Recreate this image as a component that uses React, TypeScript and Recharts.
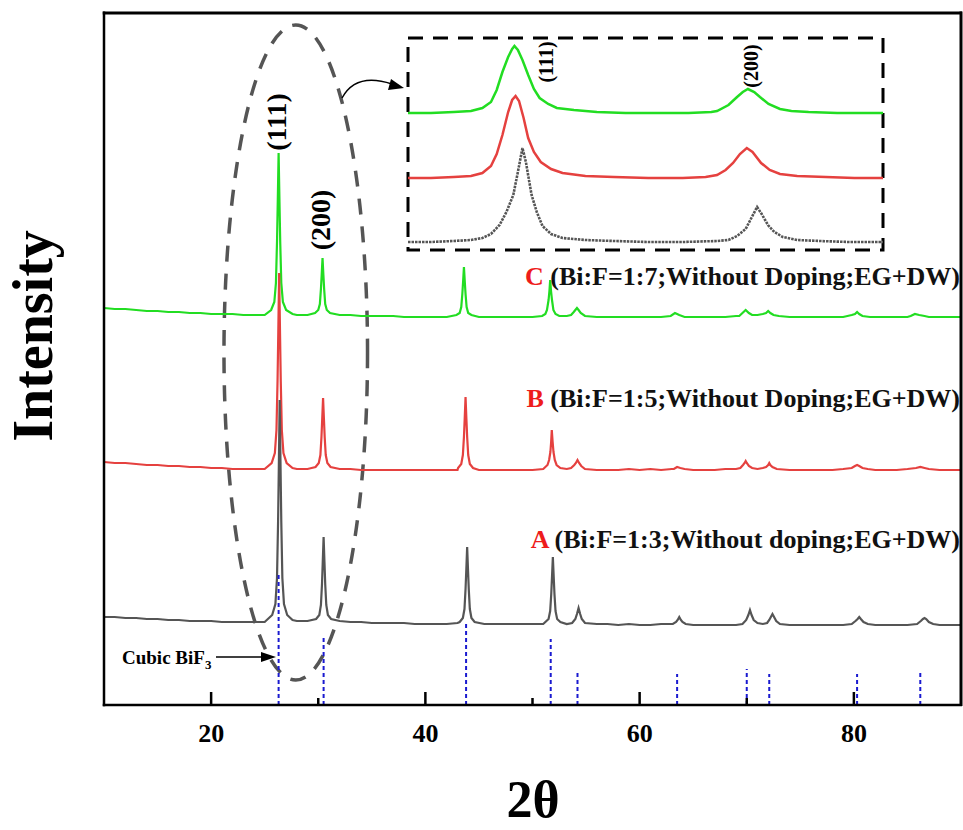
import React from "react";
import { LineChart, Line, XAxis, YAxis, ReferenceArea, ReferenceLine } from "recharts";

// 2θ (deg) vs intensity (arb. units)
const seriesA: number[][] = [
  [10,88],[11,88],[12,87],[13,87],[14,86],[15,86],[16,85],[17,85],[18,84],[19,84],[20,84],[21,83],[22,83],[23,83],[24,83],[25,83],
  [25.7,90],[26.0,101],[26.15,127],[26.25,183],[26.32,238],[26.4,305],[26.48,238],[26.55,183],[26.65,127],[26.8,101],[27.1,90],[27.6,85],[28,84],[29,84],
  [29.8,86],[30.1,90],[30.25,100],[30.35,121],[30.42,143],[30.5,168],[30.58,143],[30.65,121],[30.75,100],[30.9,90],[31.2,86],
  [32,84],[33,83],[34,83],[35,82],[36,82],[37,82],[38,82],[39,81],[40,81],[41,81],[42,81],[43,82],
  [43.2,83],[43.5,87],[43.65,96],[43.75,116],[43.82,135],[43.9,158],[43.98,135],[44.05,116],[44.15,96],[44.3,87],[44.6,83],
  [45.5,81],[46,81],[47,81],[48,81],[49,81],[50,81],[51,81],
  [51.2,83],[51.5,86],[51.65,94],[51.75,111],[51.82,128],[51.9,148],[51.98,128],[52.05,111],[52.15,94],[52.3,86],[52.6,83],[53.2,81],
  [53.7,82],[54.0,86],[54.15,91],[54.3,97],[54.45,91],[54.6,86],[54.9,82],
  [56,81],[57,81],[58,80],[59,81],[60,80],[61,80],[62,81],[63,81],
  [63.1,81],[63.4,83],[63.55,85],[63.7,88],[63.85,85],[64.0,83],[64.3,81],
  [65,80],[66,80],[67,80],[68,80],[69,80],
  [69.6,81],[69.95,85],[70.15,90],[70.3,95],[70.45,90],[70.65,85],[71.0,82],[71.5,81],
  [71.9,82],[72.1,85],[72.25,88],[72.4,91],[72.55,88],[72.75,84],[73.1,81],
  [74,80],[75,80],[76,80],[77,80],[78,80],[79,80],
  [79.8,81],[80.15,84],[80.35,86],[80.5,88],[80.65,86],[80.9,83],[81.3,81],
  [82,80],[83,80],[84,80],[85,80],
  [85.9,81],[86.25,84],[86.45,86],[86.6,87],[86.75,86],[87.0,83],[87.4,81],[88,80],[89,80],[90,80],
];

const seriesB: number[][] = [
  [10,243],[11,242],[12,242],[13,241],[14,240],[15,240],[16,239],[17,239],[18,238],[19,238],[20,237],[21,237],[22,236],[23,236],[24,236],[25,236],
  [25.65,242],[25.95,252],[26.1,275],[26.2,324],[26.27,373],[26.35,432],[26.43,373],[26.5,324],[26.6,275],[26.75,252],[27.05,242],[27.6,237],[28,236],[29,236],
  [29.75,238],[30.05,242],[30.2,250],[30.3,268],[30.37,286],[30.45,307],[30.53,286],[30.6,268],[30.7,250],[30.85,242],[31.15,238],
  [32,236],[33,236],[34,235],[35,235],[36,235],[37,235],[38,235],[39,235],[40,235],[41,235],[42,235],[43,235],
  [43.05,237],[43.35,241],[43.5,250],[43.6,268],[43.67,286],[43.75,308],[43.83,286],[43.9,268],[44.0,250],[44.15,241],[44.45,237],
  [45,235],[46,235],[47,235],[48,235],[49,235],[50,235],[51,236],
  [51.1,237],[51.4,240],[51.55,245],[51.67,253],[51.74,263],[51.8,275],[51.88,263],[51.96,253],[52.08,245],[52.25,240],[52.6,237],[53.2,236],
  [53.6,237],[53.9,240],[54.05,242],[54.2,245],[54.35,242],[54.55,239],[54.9,236],
  [56,235],[57,235],[58,235],[59,236],[60,235],[61,236],[62,235],[63,236],
  [63.2,236],[63.5,238],[63.8,237],[64.2,236],
  [65,235],[66,235],[67,235],[68,236],[69,236],
  [69.4,237],[69.65,240],[69.8,242],[69.9,244],[70.0,242],[70.2,239],[70.5,237],[71,236],[71.5,237],
  [71.8,238],[72.0,240],[72.1,242],[72.2,240],[72.4,238],[72.8,236],
  [74,235],[75,235],[76,235],[77,235],[78,235],[79,236],
  [79.8,237],[80.1,239],[80.3,240],[80.5,239],[80.8,237],[81.3,236],
  [82,235],[83,235],[84,235],[85,236],
  [85.8,237],[86.2,238],[86.6,237],[87,236],[88,235],[89,235],[90,235],
];

const seriesC: number[][] = [
  [10,397],[11,396],[12,396],[13,395],[14,394],[15,394],[16,393],[17,393],[18,392],[19,392],[20,391],[21,391],[22,391],[23,390],[24,390],[25,390],
  [25.6,395],[25.9,403],[26.05,422],[26.15,463],[26.22,503],[26.3,552],[26.38,503],[26.45,463],[26.55,422],[26.7,403],[27.0,395],[27.6,391],[28,390],[29,390],
  [29.7,392],[30.0,395],[30.15,401],[30.25,416],[30.32,430],[30.4,447],[30.48,430],[30.55,416],[30.65,401],[30.8,395],[31.1,392],
  [32,390],[33,390],[34,389],[35,389],[36,389],[37,389],[38,388],[39,388],[40,388],[41,388],[42,388],
  [42.9,390],[43.2,392],[43.35,398],[43.45,411],[43.52,423],[43.6,438],[43.68,423],[43.75,411],[43.85,398],[44.0,392],[44.3,390],
  [45,388],[46,388],[47,388],[48,388],[49,388],[50,388],
  [50.9,389],[51.2,391],[51.35,395],[51.5,405],[51.58,414],[51.65,425],[51.73,414],[51.82,405],[51.95,395],[52.15,391],[52.5,389],[53.2,389],
  [53.6,390],[53.85,393],[54.0,395],[54.15,397],[54.3,395],[54.5,392],[54.9,389],
  [56,388],[57,388],[58,388],[59,388],[60,388],[61,388],[62,388],
  [62.9,389],[63.3,392],[63.7,390],[64.2,388],
  [65,388],[66,388],[67,388],[68,388],[69,389],
  [69.3,389],[69.6,392],[69.9,395],[70.2,392],[70.5,390],[71,390],[71.5,391],
  [71.8,392],[72.0,394],[72.2,392],[72.5,390],[73,389],
  [74,388],[75,388],[76,388],[77,388],[78,388],[79,388],
  [79.8,390],[80.1,391],[80.3,393],[80.5,391],[80.8,389],[81.5,388],
  [82,388],[83,388],[84,388],[85,388],
  [85.3,389],[85.7,391],[86.1,390],[86.6,389],[87,388],[88,388],[89,388],[90,388],
];

// Cubic BiF3 standard reflections: 2θ and relative height
const refPositions: number[] = [26.3, 30.5, 43.8, 51.7, 54.2, 63.5, 70.0, 72.1, 80.3, 86.2];
const refHeights: number[] = [130, 70, 82, 66, 35, 31, 36, 31, 31, 32];

// Inset (zoom on the (111) and (200) reflections)
const insetC: number[][] = [
  [24.4,137],[24.8,137],[25.2,138],[25.5,139],[25.7,142],[25.85,148],[25.95,160],[26.05,178],[26.15,193],[26.22,201],[26.26,204],
  [26.32,200],[26.4,190],[26.5,175],[26.6,161],[26.7,152],[26.85,146],[27.0,142],[27.3,140],[27.7,138],[28.2,137],[28.8,137],[29.3,137],[29.7,138],
  [29.8,139],[30.0,145],[30.15,153],[30.25,158],[30.34,161],[30.45,158],[30.55,153],[30.7,146],[30.9,141],[31.1,139],[31.4,138],[31.9,137],[32.3,137],[32.7,137],
];
const insetB: number[][] = [
  [24.4,72],[24.8,72],[25.2,73],[25.5,74],[25.7,77],[25.85,84],[25.95,96],[26.05,115],[26.15,138],[26.22,150],[26.28,154],
  [26.34,149],[26.42,132],[26.5,112],[26.6,98],[26.72,88],[26.9,81],[27.1,77],[27.5,74],[28,73],[28.6,72],[29.2,72],[29.6,73],
  [29.8,75],[29.95,80],[30.08,87],[30.2,96],[30.32,102],[30.42,98],[30.57,87],[30.72,80],[30.9,76],[31.2,74],[31.7,73],[32.2,72],[32.7,72],
];
const insetA: number[][] = [
  [24.4,8],[24.8,8],[25.2,9],[25.5,10],[25.7,12],[25.85,16],[26.0,25],[26.12,38],[26.24,55],[26.32,78],[26.4,102],
  [26.46,88],[26.52,68],[26.56,55],[26.65,38],[26.75,24],[26.9,16],[27.1,12],[27.5,10],[28,9],[28.6,8],[29.2,8],[29.8,9],
  [30.0,10],[30.15,14],[30.3,21],[30.4,32],[30.5,43],[30.58,36],[30.69,25],[30.8,18],[30.95,13],[31.2,10],[31.6,9],[32.1,8],[32.7,8],
];

const xTicks: number[] = [20, 30, 40, 50, 60, 70, 80];
const seriesLabels = [
  { letter: "C", text: " (Bi:F=1:7;Without Doping;EG+DW)" },
  { letter: "B", text: " (Bi:F=1:5;Without Doping;EG+DW)" },
  { letter: "A", text: " (Bi:F=1:3;Without doping;EG+DW)" },
];

const toPts = (arr: number[][]) => arr.map(([x, y]) => ({ x, y }));

const GREEN = "#22dd22";
const RED = "#e5413f";
const GRAY = "#555555";
const BLUE = "#1a1ad0";
const SERIF = "'Liberation Serif', 'Times New Roman', serif";

const AxisTick = (props: any) => {
  const { x, y, payload } = props;
  const v = payload.value as number;
  const major = v % 20 === 0;
  return (
    <g>
      <line x1={x} x2={x} y1={y} y2={y - (major ? 13 : 7)} stroke="#000" strokeWidth={2.5} />
      {major && (
        <text x={x} y={y + 37} textAnchor="middle" fontFamily={SERIF} fontWeight="bold" fontSize={26} fill="#000">
          {v}
        </text>
      )}
    </g>
  );
};

const EllipseShape = (props: any) => {
  const { x, y, width, height } = props;
  return (
    <ellipse
      cx={x + width / 2}
      cy={y + height / 2}
      rx={width / 2}
      ry={height / 2}
      fill="none"
      stroke="#555"
      strokeWidth={3.5}
      strokeDasharray="16 12"
    />
  );
};

export default function App() {
  const labelBaselines = [285, 407, 548];
  return (
    <div style={{ position: "absolute", left: 0, top: 0, width: 963, height: 830, background: "#fff" }}>
      <LineChart width={963} height={830} margin={{ top: 13, right: 2, bottom: 85, left: 104 }}>
        <XAxis
          dataKey="x"
          type="number"
          domain={[10, 90]}
          ticks={xTicks}
          tick={<AxisTick />}
          tickSize={0}
          tickMargin={0}
          axisLine={false}
          tickLine={false}
          height={40}
          allowDataOverflow
        />
        <YAxis type="number" domain={[0, 692]} hide allowDataOverflow />
        <ReferenceArea x1={21.2} x2={34.6} y1={25} y2={680} shape={<EllipseShape />} ifOverflow="visible" />
        <Line data={toPts(seriesC)} dataKey="y" stroke={GREEN} strokeWidth={2.2} dot={false} activeDot={false} isAnimationActive={false} />
        <Line data={toPts(seriesB)} dataKey="y" stroke={RED} strokeWidth={2.2} dot={false} activeDot={false} isAnimationActive={false} />
        <Line data={toPts(seriesA)} dataKey="y" stroke={GRAY} strokeWidth={2.2} dot={false} activeDot={false} isAnimationActive={false} />
        {refPositions.map((p, i) => (
          <ReferenceLine
            key={i}
            segment={[{ x: p, y: 0 }, { x: p, y: refHeights[i] }]}
            stroke={BLUE}
            strokeWidth={2}
            strokeDasharray="4 3"
          />
        ))}
      </LineChart>

      <div style={{ position: "absolute", left: 404, top: 34 }}>
        <LineChart width={483} height={220} margin={{ top: 4, right: 4, bottom: 4, left: 4 }}>
          <XAxis dataKey="x" type="number" domain={[24.4, 32.7]} hide allowDataOverflow />
          <YAxis type="number" domain={[0, 212]} hide allowDataOverflow />
          <Line data={toPts(insetC)} dataKey="y" stroke={GREEN} strokeWidth={2.5} dot={false} activeDot={false} isAnimationActive={false} />
          <Line data={toPts(insetB)} dataKey="y" stroke={RED} strokeWidth={2.5} dot={false} activeDot={false} isAnimationActive={false} />
          <Line data={toPts(insetA)} dataKey="y" stroke={GRAY} strokeWidth={2.6} strokeDasharray="2.5 1" dot={false} activeDot={false} isAnimationActive={false} />
          <ReferenceArea x1={24.4} x2={32.7} y1={0} y2={212} fill="none" fillOpacity={0} stroke="#000" strokeWidth={3} strokeDasharray="15 10" ifOverflow="visible" />
        </LineChart>
      </div>

      <svg width={963} height={830} style={{ position: "absolute", left: 0, top: 0, pointerEvents: "none" }}>
        <line x1={102.75} y1={13} x2={962} y2={13} stroke="#000" strokeWidth={3} />
        <line x1={961} y1={11.5} x2={961} y2={706} stroke="#000" strokeWidth={3} />
        <line x1={104} y1={11.5} x2={104} y2={706.25} stroke="#000" strokeWidth={2.5} />
        <line x1={102.75} y1={705} x2={962} y2={705} stroke="#000" strokeWidth={2.5} />
        <g fontFamily={SERIF} fontWeight="bold" fill="#000">
          <text transform="translate(52,336) rotate(-90)" textAnchor="middle" fontSize={56}>Intensity</text>
          <text x={533} y={817} textAnchor="middle" fontSize={52}>2θ</text>
          {seriesLabels.map((s, i) => (
            <text key={s.letter} x={960} y={labelBaselines[i]} textAnchor="end" fontSize={26}>
              <tspan fill="#ee1c1c">{s.letter}</tspan>
              <tspan fill="#111">{s.text}</tspan>
            </text>
          ))}
          <text transform="translate(286,122) rotate(-90)" textAnchor="middle" fontSize={28}>(111)</text>
          <text transform="translate(330,220) rotate(-90)" textAnchor="middle" fontSize={28}>(200)</text>
          <text transform="translate(553,62) rotate(-90)" textAnchor="middle" fontSize={20}>(111)</text>
          <text transform="translate(758,66) rotate(-90)" textAnchor="middle" fontSize={20}>(200)</text>
          <text x={122} y={664} fontSize={19}>
            Cubic BiF<tspan fontSize={13} dy={5}>3</tspan>
          </text>
        </g>
        <line x1={216} y1={657} x2={262} y2={657} stroke="#000" strokeWidth={1.5} />
        <polygon points="276,657 261,652 261,662" fill="#000" />
        <path d="M342,98 Q356,72 392,84" fill="none" stroke="#000" strokeWidth={1.5} />
        <polygon points="404,88 391,79 388,90" fill="#000" />
      </svg>
    </div>
  );
}
